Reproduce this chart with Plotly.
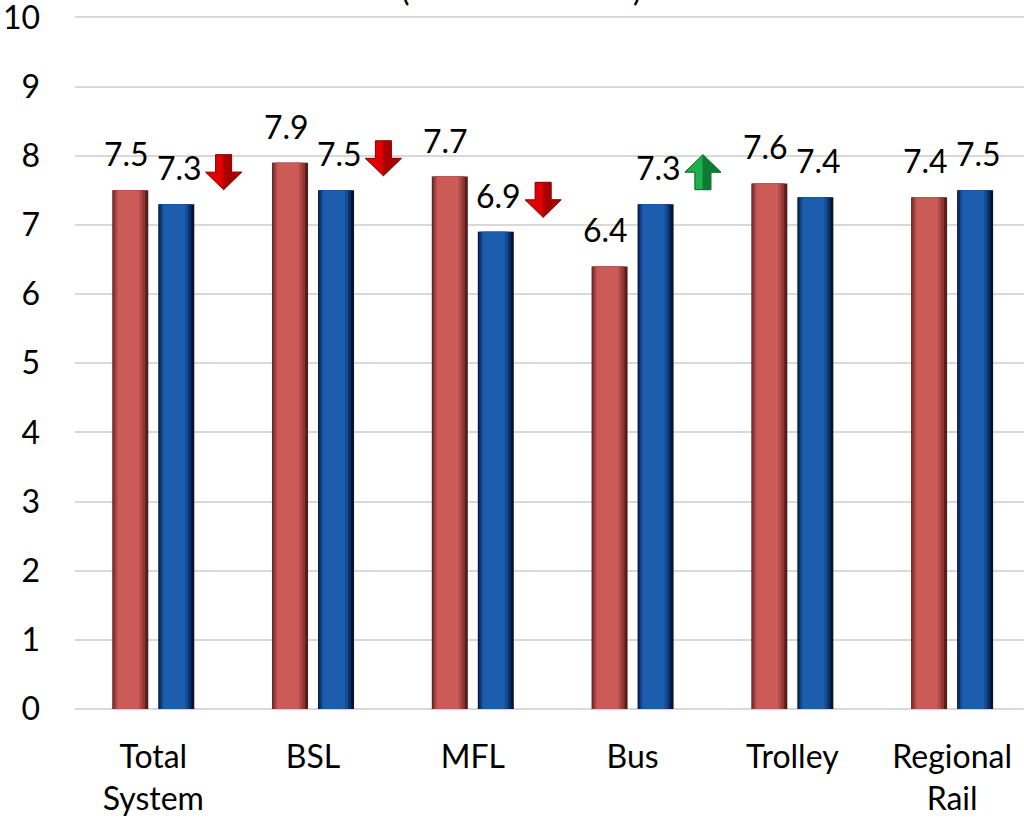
import plotly.graph_objects as go

# ---- data ----
categories = ["Total<br>System", "BSL", "MFL", "Bus", "Trolley", "Regional<br>Rail"]
series_prev = [7.5, 7.9, 7.7, 6.4, 7.6, 7.4]
series_curr = [7.3, 7.5, 6.9, 7.3, 7.4, 7.5]
trend = ["down", "down", "down", "up", None, None]
y_ticks = list(range(0, 11))

# ---- layout constants ----
W, H = 1024, 822
ML, MR, MT, MB = 75, 0, 14, 113
X_RANGE = [-0.49, 5.45]
Y_RANGE = [0, 10.05]
PXX = (W - ML - MR) / (X_RANGE[1] - X_RANGE[0])   # px per x unit
PXY = (H - MT - MB) / (Y_RANGE[1] - Y_RANGE[0])   # px per y unit
FONT = "Lato, 'Open Sans', 'DejaVu Sans', sans-serif"

BAR_PX = 36
GAP_PX = 10
xs = list(range(len(categories)))

fig = go.Figure()

red_layers = [(0, 36, "#5A1C1B"), (1, 33, "#8A3836"), (3, 30, "#B04946"), (5, 27, "#CB5B57")]
blue_layers = [(0, 36, "#031530"), (1, 33, "#0B306A"), (3, 30, "#144C98"), (5, 27, "#1D5DAE")]


def add_bar(values, start_px, layers, name):
    for i, (l, r, col) in enumerate(layers):
        fig.add_trace(go.Bar(
            x=xs, y=values, name=name,
            offset=(start_px + l) / PXX, width=(r - l) / PXX,
            marker=dict(color=col, line=dict(width=0)),
            showlegend=False, hoverinfo="skip" if i else "y",
        ))


red_start = -(BAR_PX + GAP_PX / 2)
blue_start = GAP_PX / 2
add_bar(series_prev, red_start, red_layers, "Previous")
add_bar(series_curr, blue_start, blue_layers, "Current")

# value labels
annotations = []
for x, v in zip(xs, series_prev):
    annotations.append(dict(x=x + (red_start + BAR_PX / 2) / PXX, y=v, text=f"{v:.1f}",
                            showarrow=False, yanchor="bottom", yshift=15, xshift=-4,
                            font=dict(size=32, color="#000000", family=FONT)))
for x, v in zip(xs, series_curr):
    annotations.append(dict(x=x + (blue_start + BAR_PX / 2) / PXX, y=v, text=f"{v:.1f}",
                            showarrow=False, yanchor="bottom", yshift=15, xshift=3,
                            font=dict(size=32, color="#000000", family=FONT)))

# trend arrows (block arrows), positioned from the data
AW, AH, SW = 36 / PXX, 35 / PXY, 16 / PXX
for x, v, t in zip(xs, series_curr, trend):
    if t is None:
        continue
    cx = x + 0.44
    cy = v + 32 / PXY
    hw, sw, hh = AW / 2, SW / 2, AH / 2
    if t == "down":
        px = [cx - sw, cx + sw, cx + sw, cx + hw, cx, cx - hw, cx - sw, cx - sw]
        py = [cy + hh, cy + hh, cy, cy, cy - hh, cy, cy, cy + hh]
        rx = [cx, cx + sw, cx + sw, cx + hw, cx, cx]
        ry = [cy + hh, cy + hh, cy, cy, cy - hh, cy + hh]
        main, dark, edge = "#E00000", "#A80000", "#7A0000"
    else:
        px = [cx - sw, cx + sw, cx + sw, cx + hw, cx, cx - hw, cx - sw, cx - sw]
        py = [cy - hh, cy - hh, cy, cy, cy + hh, cy, cy, cy - hh]
        rx = [cx, cx + sw, cx + sw, cx + hw, cx, cx]
        ry = [cy - hh, cy - hh, cy, cy, cy + hh, cy - hh]
        main, dark, edge = "#1DB04E", "#0E7A33", "#0A5A25"
    fig.add_trace(go.Scatter(x=px, y=py, fill="toself", fillcolor=main, mode="lines",
                             line=dict(color=edge, width=1), showlegend=False, hoverinfo="skip"))
    fig.add_trace(go.Scatter(x=rx, y=ry, fill="toself", fillcolor=dark, mode="lines",
                             line=dict(color=dark, width=0.5), showlegend=False, hoverinfo="skip"))

# clipped title remnants at top (the reference crop shows only their lower ends)
for ch, px_x in (("(", 405), (")", 637)):
    annotations.append(dict(xref="paper", yref="paper", x=(px_x - ML) / (W - ML - MR),
                            y=1 + (MT - 10) / (H - MT - MB), yanchor="bottom",
                            text=ch, showarrow=False,
                            font=dict(size=32, color="#000000", family=FONT)))

fig.update_layout(
    width=W, height=H,
    margin=dict(l=ML, r=MR, t=MT, b=MB, pad=0, autoexpand=False),
    barmode="overlay",
    plot_bgcolor="#FFFFFF", paper_bgcolor="#FFFFFF",
    font=dict(family=FONT, size=32, color="#000000"),
    annotations=annotations,
    showlegend=False,
)
fig.update_xaxes(range=X_RANGE, tickmode="array", tickvals=xs, ticktext=categories,
                 showgrid=False, zeroline=False, showline=False, ticks="",
                 automargin=False, ticklabelstandoff=26, ticklabeloverflow="allow",
                 tickfont=dict(size=32, family=FONT))
fig.update_yaxes(range=Y_RANGE, tickmode="array", tickvals=y_ticks,
                 ticktext=[str(t) for t in y_ticks],
                 showgrid=True, gridcolor="#D9D9D9", gridwidth=2,
                 zeroline=True, zerolinecolor="#D9D9D9", zerolinewidth=2,
                 showline=False, ticks="", ticklabelstandoff=34, automargin=False,
                 ticklabeloverflow="allow",
                 tickfont=dict(size=32, family=FONT))

fig.write_html("out.html", config={"displayModeBar": False},
               post_script="document.body.style.margin='0';document.body.style.overflow='hidden';")
